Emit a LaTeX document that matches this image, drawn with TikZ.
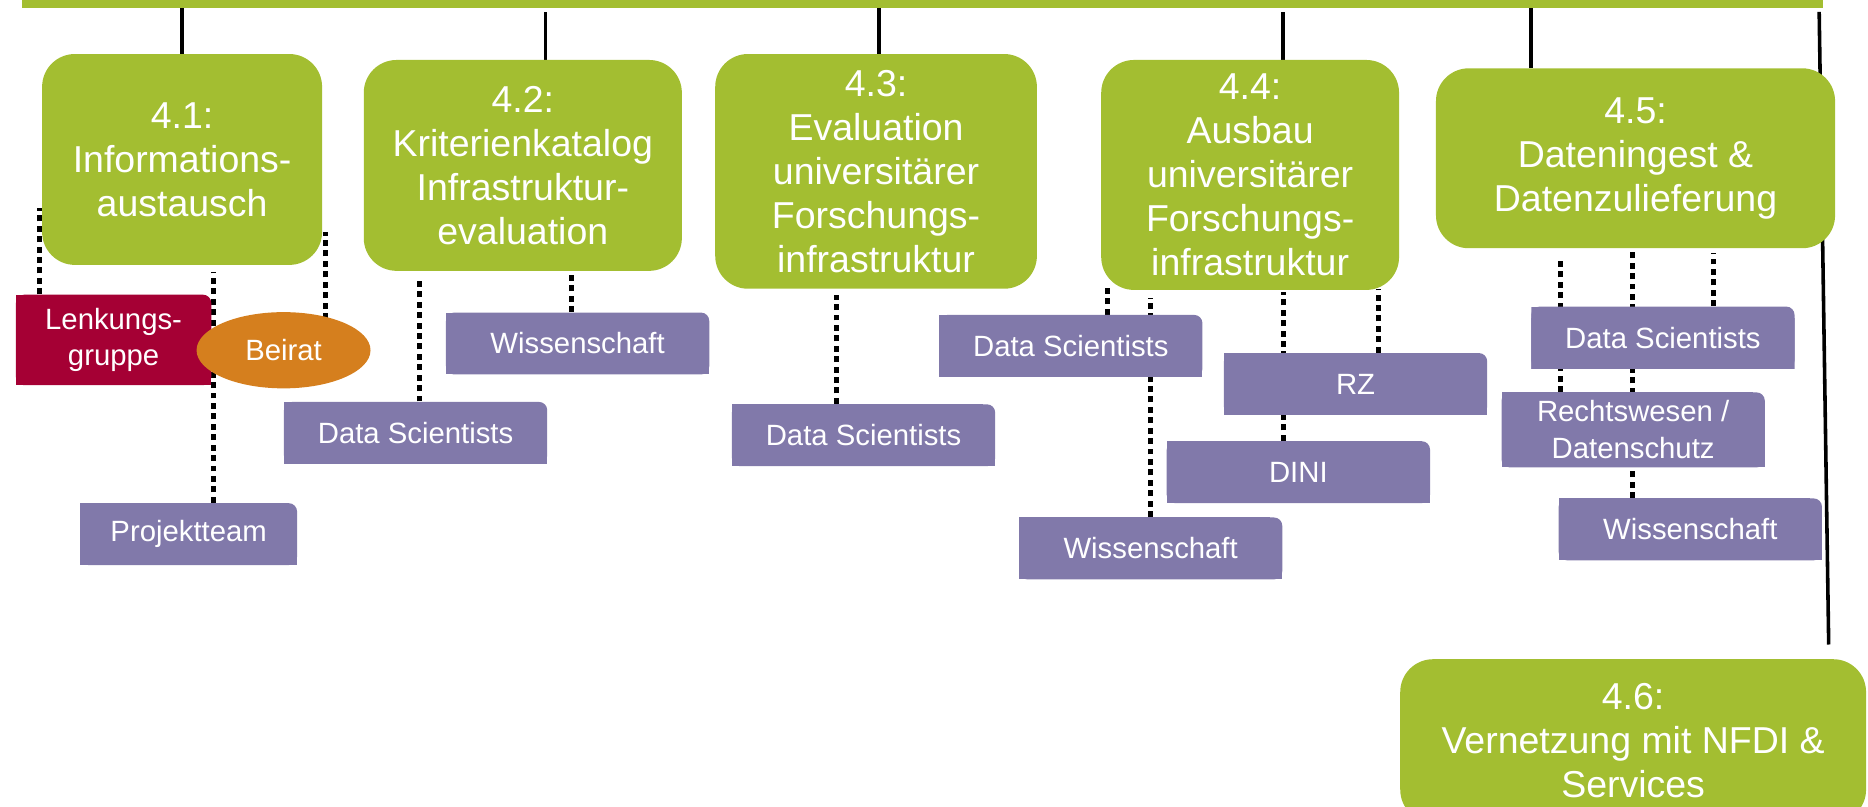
\documentclass[tikz,border=0pt]{standalone}
\usepackage{fontspec}
\setmainfont{Liberation Sans}
\usetikzlibrary{shapes.geometric}
\pgfdeclarelayer{background}
\pgfsetlayers{background,main}

\definecolor{apgruen}{HTML}{A3BE31}
\definecolor{lila}{HTML}{8179AA}
\definecolor{lenkrot}{HTML}{A50034}
\definecolor{beiratorange}{HTML}{D57F1E}

\newcommand\apfont{\fontsize{17.9pt}{21pt}\selectfont}
\newcommand\rollefont{\fontsize{14pt}{17.6pt}\selectfont}

\tikzset{
	ap/.style={fill=apgruen, rounded corners=0.55cm, text=white, align=center, inner sep=0pt, font=\apfont, anchor=north west},
	rolle/.style={minimum width=4.42cm, minimum height=1.04cm, inner sep=0pt, text=white, align=center, font=\rollefont, anchor=north west,
		path picture={
			\fill[#1, rounded corners=0.14cm] (path picture bounding box.south west) rectangle (path picture bounding box.north east);
			\fill[#1] (path picture bounding box.south west) rectangle ([xshift=-0.2cm]path picture bounding box.north east);
			\fill[#1] (path picture bounding box.south west) rectangle ([yshift=-0.2cm]path picture bounding box.north east);
		}},
	rolle/.default=lila,
	beirat/.style={ellipse, fill=beiratorange, minimum width=2.92cm, minimum height=1.28cm, inner sep=0pt, text=white, font=\rollefont},
	stiel/.style={line width=0.06cm, black},
	punkte/.style={line width=0.085cm, black, dash pattern=on 0.1cm off 0.075cm},
}

\begin{document}
\begin{tikzpicture}[x=0.2mm, y=0.2mm]
	\useasboundingbox (0,0) rectangle (1568,-677);
	
	\node[fill=apgruen, minimum width=30.24cm, minimum height=0.12cm, inner sep=0pt, anchor=north west] (leiste) at (18,0) {};
	
	% Arbeitspakete
	\node[ap, minimum width=4.7cm, minimum height=3.54cm] (ap1) at (35,-45) {4.1:\\Informations-\\austausch};
	\node[ap, minimum width=5.34cm, minimum height=3.54cm] (ap2) at (305,-50) {4.2:\\Kriterienkatalog\\Infrastruktur-\\evaluation};
	\node[ap, minimum width=5.4cm, minimum height=3.94cm] (ap3) at (600,-45) {4.3:\\Evaluation\\universitärer\\Forschungs-\\infrastruktur};
	\node[ap, minimum width=5.0cm, minimum height=3.86cm] (ap4) at (924,-50) {4.4:\\Ausbau\\universitärer\\Forschungs-\\infrastruktur};
	\node[ap, minimum width=6.7cm, minimum height=3.02cm] (ap5) at (1205,-57) {4.5:\\Dateningest \&\\Datenzulieferung};
	\node[ap, minimum width=7.82cm, minimum height=2.74cm] (ap6) at (1175,-553) {4.6:\\Vernetzung mit NFDI \&\\Services};
	
	% Rollen
	\node[rolle=lenkrot, minimum width=3.28cm, minimum height=1.52cm] (lenkung) at (13,-247) {Lenkungs-\\gruppe};
	\node[beirat] (beirat) at (238,-294) {Beirat};
	\node[rolle, minimum width=3.64cm] (team) at (67,-422) {Projektteam};
	\node[rolle] (ds2) at (238,-337) {Data Scientists};
	\node[rolle] (wiss2) at (374,-262) {Wissenschaft};
	\node[rolle] (ds3) at (614,-339) {Data Scientists};
	\node[rolle] (ds4) at (788,-264) {Data Scientists};
	\node[rolle] (rz) at (1027,-296) {RZ};
	\node[rolle] (dini) at (979,-370) {DINI};
	\node[rolle] (wiss4) at (855,-434) {Wissenschaft};
	\node[rolle] (ds5) at (1285,-257) {Data Scientists};
	\node[rolle, minimum height=1.26cm] (recht) at (1260,-329) {Rechtswesen /\\Datenschutz};
	\node[rolle] (wiss5) at (1308,-418) {Wissenschaft};
	
	\begin{pgfonlayer}{background}
		\draw[stiel] (ap1.north -| 153,0) -- (leiste.south -| 153,0);
		\draw[stiel] (ap2.north -| 458,0) -- +(0,40);
		\draw[stiel] (ap3.north -| 738,0) -- (leiste.south -| 738,0);
		\draw[stiel] (ap4.north -| 1077,0) -- +(0,40);
		\draw[stiel] (ap5.north -| 1285,0) -- (leiste.south -| 1285,0);
		\draw[stiel] (ap6.north -| 1535,0) ++(0,12) -- (1527,-10);
		
		\draw[punkte] (lenkung.north -| 33,0) -- +(0,72);
		\draw[punkte] (team.north -| 179,0) -- +(0,194);
		\draw[punkte] (beirat.center -| 273,0) -- +(0,99);
		\draw[punkte] (ds2.north -| 352,0) -- +(0,105);
		\draw[punkte] (wiss2.north -| 480,0) -- +(0,34);
		\draw[punkte] (ds3.north -| 702,0) -- +(0,91);
		\draw[punkte] (ds4.north -| 930,0) -- +(0,24);
		\draw[punkte] (wiss4.north -| 966,0) -- +(0,184);
		\draw[punkte] (dini.north -| 1077,0) -- +(0,125);
		\draw[punkte] (rz.north -| 1157,0) -- +(0,53);
		\draw[punkte] (recht.north -| 1310,0) -- +(0,111);
		\draw[punkte] (wiss5.north -| 1370,0) -- +(0,210);
		\draw[punkte] (ds5.north -| 1438,0) -- +(0,45);
	\end{pgfonlayer}
\end{tikzpicture}
\end{document}
